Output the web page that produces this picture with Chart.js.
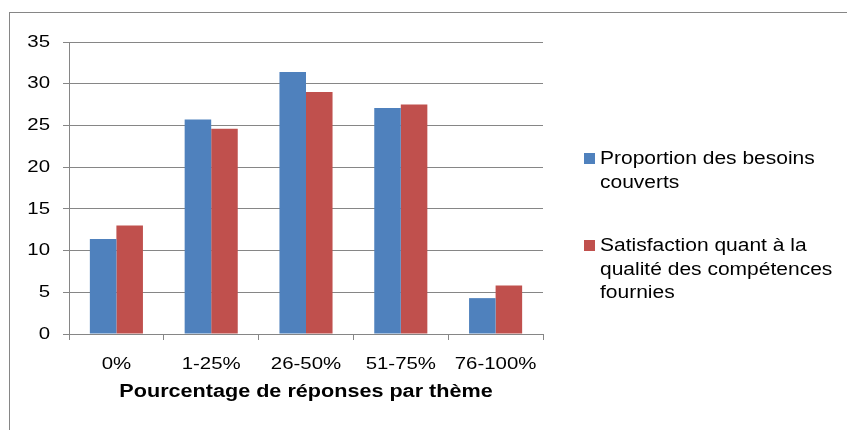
<!DOCTYPE html>
<html>
<head>
<meta charset="utf-8">
<script src="https://cdn.jsdelivr.net/npm/chart.js@4"></script>
<style>
  html, body { margin: 0; padding: 0; background: #fff; }
  #wrap { width: 847px; height: 430px; }
</style>
</head>
<body>
<div id="wrap"><canvas id="myChart" width="847" height="430"></canvas></div>
<script>
const categories = ['0%', '1-25%', '26-50%', '51-75%', '76-100%'];
const besoinsCouverts = [11.4, 25.7, 31.4, 27.1, 4.3];
const satisfactionQualite = [13.0, 24.6, 29.0, 27.5, 5.8];
const yTicks = [0, 5, 10, 15, 20, 25, 30, 35];
// texte de la légende, une ligne par élément
const legendLines = [
    ['Proportion des besoins', 'couverts'],
    ['Satisfaction quant à la', 'qualité des compétences', 'fournies']
];

const FONT = 'Liberation Sans, Arial, sans-serif';
const STRETCH = 1.2; // le texte de l'original est étiré horizontalement

// cadre gris + légende dessinée à la main (texte sur plusieurs lignes)
const frameAndLegend = {
    id: 'frameAndLegend',
    beforeDraw(chart) {
        const ctx = chart.ctx;
        ctx.save();
        ctx.fillStyle = '#fff';
        ctx.fillRect(0, 0, chart.width, chart.height);
        ctx.strokeStyle = '#868686';
        ctx.lineWidth = 1;
        ctx.strokeRect(9.5, 12.5, 900, 500);
        ctx.restore();
    },
    afterDraw(chart) {
        const ctx = chart.ctx;
        const tops = [158.5, 245.5];
        ctx.save();
        ctx.font = '17.5px ' + FONT;
        ctx.textAlign = 'left';
        ctx.textBaseline = 'middle';
        chart.data.datasets.forEach((ds, i) => {
            ctx.fillStyle = ds.backgroundColor;
            ctx.fillRect(584, tops[i] - 5.5, 11, 11);
            ctx.fillStyle = '#000';
            legendLines[i].forEach((line, j) => {
                ctx.fillText(line, 600, tops[i] + 0.5 + j * 23.7);
            });
        });
        ctx.restore();
    }
};

const config = {
    type: 'bar',
    data: {
        labels: categories,
        datasets: [
            {
                label: legendLines[0].join(' '),
                data: besoinsCouverts,
                backgroundColor: '#4F81BD',
                borderWidth: 0
            },
            {
                label: legendLines[1].join(' '),
                data: satisfactionQualite,
                backgroundColor: '#C0504D',
                borderWidth: 0
            }
        ]
    },
    options: {
        responsive: false,
        animation: false,
        layout: { padding: { top: 42, left: 0, right: 304, bottom: 0 } },
        categoryPercentage: 0.56,
        barPercentage: 1.0,
        scales: {
            x: {
                grid: {
                    display: true,
                    offset: true,
                    drawOnChartArea: false,
                    drawTicks: true,
                    tickLength: 6,
                    color: '#868686'
                },
                border: { color: '#868686', width: 1 },
                ticks: { color: '#000', font: { family: FONT, size: 17 }, padding: 14, maxRotation: 0, autoSkip: false },
                title: {
                    display: true,
                    text: 'Pourcentage de réponses par thème',
                    color: '#000',
                    font: { family: FONT, size: 18, weight: 'bold' },
                    padding: { top: 0, bottom: 27 }
                },
                afterFit(scale) { scale.height = 96; }
            },
            y: {
                min: 0,
                max: 35,
                afterBuildTicks(scale) { scale.ticks = yTicks.map(v => ({ value: v })); },
                grid: { color: '#868686', tickLength: 6 },
                border: { color: '#868686', width: 1 },
                ticks: { color: '#000', font: { family: FONT, size: 17 }, padding: 13 },
                afterFit(scale) { scale.width = 69; }
            }
        },
        plugins: {
            legend: { display: false },
            tooltip: { enabled: false }
        }
    },
    plugins: [frameAndLegend]
};

document.addEventListener('DOMContentLoaded', () => {
    const ctx = document.getElementById('myChart').getContext('2d');
    // étirement horizontal du texte autour de son point d'ancrage
    const rawFillText = CanvasRenderingContext2D.prototype.fillText;
    ctx.fillText = function (text, x, y, maxWidth) {
        this.save();
        this.translate(x, y);
        this.scale(STRETCH, 1);
        if (maxWidth !== undefined) rawFillText.call(this, text, 0, 0, maxWidth / STRETCH);
        else rawFillText.call(this, text, 0, 0);
        this.restore();
    };
    window.myChart = new Chart(ctx, config);
});
</script>
</body>
</html>
